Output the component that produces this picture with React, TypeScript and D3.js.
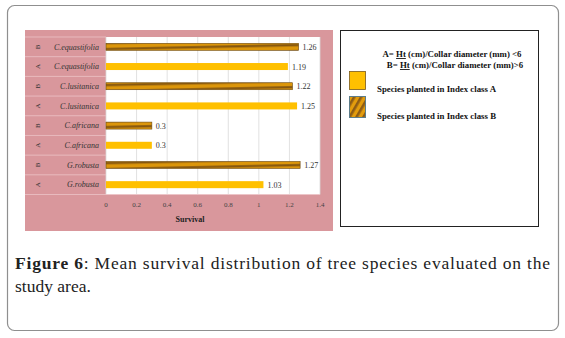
import React from "react";
import * as d3 from "d3";

const species = ["C.equastifolia", "C.equastifolia", "C.lusitanica", "C.lusitanica", "C.africana", "C.africana", "G.robusta", "G.robusta"];
const classes = ["B", "A", "B", "A", "B", "A", "B", "A"];
const values = [1.26, 1.19, 1.22, 1.25, 0.3, 0.3, 1.27, 1.03];
const ticks = [0, 0.2, 0.4, 0.6, 0.8, 1, 1.2, 1.4];
const tickLabels = ["0", "0.2", "0.4", "0.6", "0.8", "1", "1.2", "1.4"];

const W = 565, H = 338;
const PINK = "#D9979C";
const YELLOW = "#FFC000";

export default function App() {
  const x = d3.scaleLinear().domain([0, 1.4]).range([106, 320]);
  const rows = d3.range(values.length);
  const y = d3.scaleBand<number>().domain(rows).range([37, 194.5]).paddingInner(0).paddingOuter(0);
  const bw = y.bandwidth();
  const barH = 7;
  const serif = "Liberation Serif, DejaVu Serif, serif";

  return (
    <svg width={W} height={H} style={{ position: "absolute", left: 0, top: 0, background: "#fff", fontFamily: serif }}>
      <defs>
        <pattern id="stripeBar" patternUnits="userSpaceOnUse" width="40" height="6" patternTransform="rotate(-1.2)">
          <rect width="40" height="6" fill="#DC960A" />
          <rect y="2.2" width="40" height="2.2" fill="#85560F" />
        </pattern>
        <pattern id="stripeLeg" patternUnits="userSpaceOnUse" width="10" height="6" patternTransform="rotate(-60)">
          <rect width="10" height="6" fill="#E39C0C" />
          <rect y="0" width="10" height="2.6" fill="#8E5C14" />
        </pattern>
      </defs>

      {/* outer frame */}
      <rect x={7.5} y={5.5} width={551} height={325} rx={7} fill="#fff" stroke="#8f8f8f" strokeWidth={1.2} />

      {/* chart area */}
      <rect x={25} y={30} width={308} height={201} fill={PINK} />
      <rect x={x(0)} y={37} width={x(1.4) - x(0)} height={194.5 - 37} fill="#fff" />

      {/* vertical grid */}
      {ticks.map((t, i) => (
        <line key={"g" + i} x1={x(t)} x2={x(t)} y1={37} y2={194.5} stroke="#d9d9d9" strokeWidth={0.8} />
      ))}

      {/* row separators in label area */}
      {rows.map((r) => (
        <line key={"s" + r} x1={25} x2={x(0)} y1={(y(r) as number)} y2={(y(r) as number)} stroke="#ecc3c6" strokeWidth={0.8} />
      ))}
      <line x1={25} x2={x(1.4)} y1={194.5} y2={194.5} stroke="#ecc3c6" strokeWidth={0.8} />

      {/* bars */}
      {rows.map((r) => {
        const cy = (y(r) as number) + bw / 2;
        const isB = classes[r] === "B";
        return (
          <g key={"b" + r}>
            <rect
              x={x(0)}
              y={cy - barH / 2}
              width={x(values[r]) - x(0)}
              height={barH}
              fill={isB ? "url(#stripeBar)" : YELLOW}
              stroke={isB ? "#6e4a10" : "none"}
              strokeWidth={isB ? 0.6 : 0}
            />
            <text x={x(values[r]) + 4} y={cy + 3} fontSize={8} fill="#333" style={{ fontFamily: serif }}>
              {String(values[r])}
            </text>
            <text x={99} y={cy + 2.8} fontSize={8} fontStyle="italic" textAnchor="end" fill="#333" style={{ fontFamily: serif }}>
              {species[r]}
            </text>
            <text transform={`translate(${39.5},${cy}) rotate(-90)`} fontSize={7} textAnchor="middle" fill="#333" style={{ fontFamily: serif }}>
              {classes[r]}
            </text>
          </g>
        );
      })}

      {/* x tick labels */}
      {ticks.map((t, i) => (
        <text key={"t" + i} x={x(t)} y={207} fontSize={7} textAnchor="middle" fill="#444" style={{ fontFamily: serif }}>
          {tickLabels[i]}
        </text>
      ))}
      <text x={190} y={222} fontSize={8} fontWeight="bold" textAnchor="middle" fill="#222" style={{ fontFamily: serif }}>
        Survival
      </text>

      {/* legend box */}
      <rect x={340.5} y={30.5} width={198} height={196} fill="#fff" stroke="#222" strokeWidth={1} />
      <text x={452} y={57} fontSize={8.8} fontWeight="bold" textAnchor="middle" fill="#111" style={{ fontFamily: serif }}>
        A= <tspan textDecoration="underline">Ht</tspan> (cm)/Collar diameter (mm) &lt;6
      </text>
      <text x={455} y={68} fontSize={8.8} fontWeight="bold" textAnchor="middle" fill="#111" style={{ fontFamily: serif }}>
        B= <tspan textDecoration="underline">Ht</tspan> (cm)/Collar diameter (mm)&gt;6
      </text>
      <rect x={349.5} y={71.5} width={16} height={18} fill={YELLOW} stroke="#7a5a1a" strokeWidth={0.8} />
      <rect x={349.5} y={96.5} width={16} height={21} fill="url(#stripeLeg)" stroke="#5d7d8a" strokeWidth={1} />
      <text x={377} y={92} fontSize={8.8} fontWeight="bold" fill="#111" style={{ fontFamily: serif }}>
        Species planted in Index class A
      </text>
      <text x={377} y={119} fontSize={8.8} fontWeight="bold" fill="#111" style={{ fontFamily: serif }}>
        Species planted in Index class B
      </text>

      {/* caption */}
      <text x={15} y={269} fontSize={17.5} fill="#222" textLength={535} lengthAdjust="spacing" style={{ fontFamily: serif }}>
        <tspan fontWeight="bold">Figure 6</tspan>: Mean survival distribution of tree species evaluated on the
      </text>
      <text x={15} y={292} fontSize={17.5} fill="#222" style={{ fontFamily: serif }}>
        study area.
      </text>
    </svg>
  );
}
